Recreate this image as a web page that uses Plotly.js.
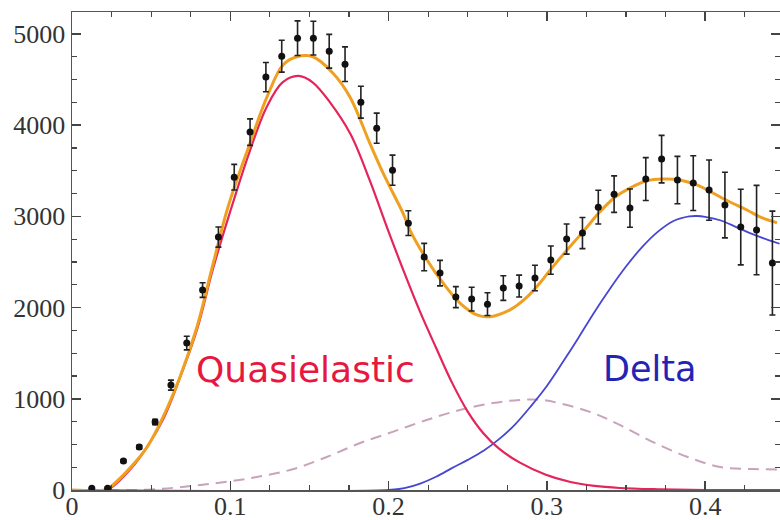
<!DOCTYPE html>
<html>
<head>
<meta charset="utf-8">
<script src="https://cdn.plot.ly/plotly-3.0.1.min.js"></script>
<style>html,body{margin:0;padding:0;background:#fff;overflow:hidden}</style>
</head>
<body>
<div id="chart" style="width:780px;height:520px"></div>
<script>
// Measured data points
const dataX = [0.0125,0.0225,0.0325,0.0425,0.0525,0.0625,0.0725,0.0825,0.0925,0.1025,
  0.1125,0.1225,0.1325,0.1425,0.1525,0.1625,0.1725,0.1825,0.1925,0.2025,
  0.2125,0.2225,0.2325,0.2425,0.2525,0.2625,0.2725,0.2825,0.2925,0.3025,
  0.3125,0.3225,0.3325,0.3425,0.3525,0.3625,0.3725,0.3825,0.3925,0.4025,
  0.4125,0.4225,0.4325,0.4425];
const dataY = [20,20,318,471,745,1150,1611,2192,2773,3430,
  3924,4527,4757,4954,4954,4811,4669,4252,3967,3507,
  2926,2554,2378,2115,2093,2038,2214,2236,2324,2521,
  2751,2817,3101,3244,3091,3409,3628,3398,3365,3288,
  3124,2883,2850,2488];
const dataErr = [0,10,15,20,30,55,75,80,110,140,
  145,160,175,190,185,185,190,175,165,165,
  135,150,140,115,130,125,135,120,140,155,
  165,170,185,200,210,235,260,260,300,330,
  360,415,490,570];

// Total (orange)
const totX = [0,0.021,0.024,0.0366,0.0474,0.0575,0.0682,0.079,0.089,0.0985,0.1124,0.1232,0.1333,0.1421,0.1522,0.1649,0.1756,0.1882,0.1965,0.2028,0.2091,0.2135,0.2243,0.2344,0.2451,0.2558,0.264,0.2767,0.2874,0.2956,0.302,0.3127,0.3228,0.3335,0.343,0.3525,0.3632,0.3733,0.384,0.3948,0.4049,0.4157,0.4264,0.4365,0.4454];
const totY = [0,0,30,240,470,800,1240,1790,2470,3100,3800,4310,4660,4750,4750,4570,4310,3800,3476,3256,3037,2850,2522,2270,2050,1920,1900,1975,2115,2270,2410,2630,2830,3050,3210,3310,3390,3410,3400,3345,3256,3158,3070,2980,2930];

// Quasielastic (red)
const qeX = [0,0.02,0.025,0.037,0.047,0.058,0.068,0.079,0.089,0.099,0.112,0.123,0.133,0.143,0.152,0.163,0.176,0.188,0.199,0.21,0.22,0.23,0.24,0.25,0.26,0.27,0.283,0.299,0.315,0.33,0.346,0.37,0.40,0.45];
const qeY = [0,0,30,230,460,790,1220,1760,2420,3000,3700,4200,4470,4540,4470,4250,3900,3400,2880,2380,1950,1560,1180,860,620,450,300,170,88,45,22,8,0,0];

// Delta (blue)
const dlX = [0,0.2,0.21,0.22,0.23,0.24,0.25,0.26,0.27,0.28,0.29,0.30,0.31,0.32,0.33,0.34,0.35,0.36,0.37,0.38,0.39,0.395,0.40,0.41,0.42,0.43,0.44,0.447];
const dlY = [0,0,20,70,145,240,330,430,560,720,920,1140,1400,1670,1950,2210,2450,2660,2830,2950,3000,3004,2995,2955,2880,2805,2740,2700];

// Dashed component
const dsX = [0,0.05,0.078,0.1,0.119,0.14,0.161,0.182,0.203,0.224,0.245,0.266,0.283,0.2956,0.3083,0.3291,0.346,0.367,0.389,0.4094,0.43,0.447];
const dsY = [0,5,50,95,150,230,362,515,640,767,877,954,987,990,950,845,713,526,362,252,230,225];

const traces = [
  {x: dsX, y: dsY, mode: 'lines', line: {color: '#c9a3bb', width: 2, dash: '11px,7px', shape: 'spline'}, hoverinfo: 'skip'},
  {x: dlX, y: dlY, mode: 'lines', line: {color: '#4646d2', width: 1.8, shape: 'spline'}, hoverinfo: 'skip'},
  {x: qeX, y: qeY, mode: 'lines', line: {color: '#e5245a', width: 2.2, shape: 'spline'}, hoverinfo: 'skip'},
  {x: totX, y: totY, mode: 'lines', line: {color: '#f0a020', width: 3, shape: 'spline'}, hoverinfo: 'skip'},
  {x: dataX, y: dataY, mode: 'markers', marker: {color: '#111', size: 7},
   error_y: {type: 'data', array: dataErr, visible: true, color: '#222', thickness: 1.6, width: 3}}
];

const axisCommon = {
  showgrid: false, zeroline: false, showline: true, linecolor: '#555', linewidth: 1.5,
  mirror: 'allticks', ticks: 'inside', ticklen: 9, tickwidth: 1.5, tickcolor: '#444',
  tickfont: {family: 'Liberation Serif, Times New Roman, serif', size: 26, color: '#333'}
};

const layout = {
  width: 780, height: 520,
  margin: {l: 72, r: 0, t: 12, b: 30},
  paper_bgcolor: '#fff', plot_bgcolor: '#fff',
  showlegend: false,
  xaxis: Object.assign({}, axisCommon, {
    range: [0, 0.4473], tickvals: [0, 0.1, 0.2, 0.3, 0.4], ticktext: ['0','0.1','0.2','0.3','0.4'],
    ticklabelstandoff: -8,
    minor: {dtick: 0.025, tick0: 0, ticks: 'inside', ticklen: 5, tickwidth: 1.2, tickcolor: '#444'}
  }),
  yaxis: Object.assign({}, axisCommon, {
    range: [0, 5241], tickvals: [0, 1000, 2000, 3000, 4000, 5000],
    minor: {dtick: 250, tick0: 0, ticks: 'inside', ticklen: 5, tickwidth: 1.2, tickcolor: '#444'}
  }),
  annotations: [
    {x: 0.1478, y: 1316, xref: 'x', yref: 'y', text: 'Quasielastic', showarrow: false,
     xanchor: 'center', yanchor: 'middle', font: {family: 'DejaVu Sans, sans-serif', size: 36, color: '#e8173f'}},
    {x: 0.365, y: 1327, xref: 'x', yref: 'y', text: 'Delta', showarrow: false,
     xanchor: 'center', yanchor: 'middle', font: {family: 'DejaVu Sans, sans-serif', size: 35, color: '#2424b4'}}
  ]
};

Plotly.newPlot('chart', traces, layout, {displayModeBar: false, staticPlot: true});
</script>
</body>
</html>
